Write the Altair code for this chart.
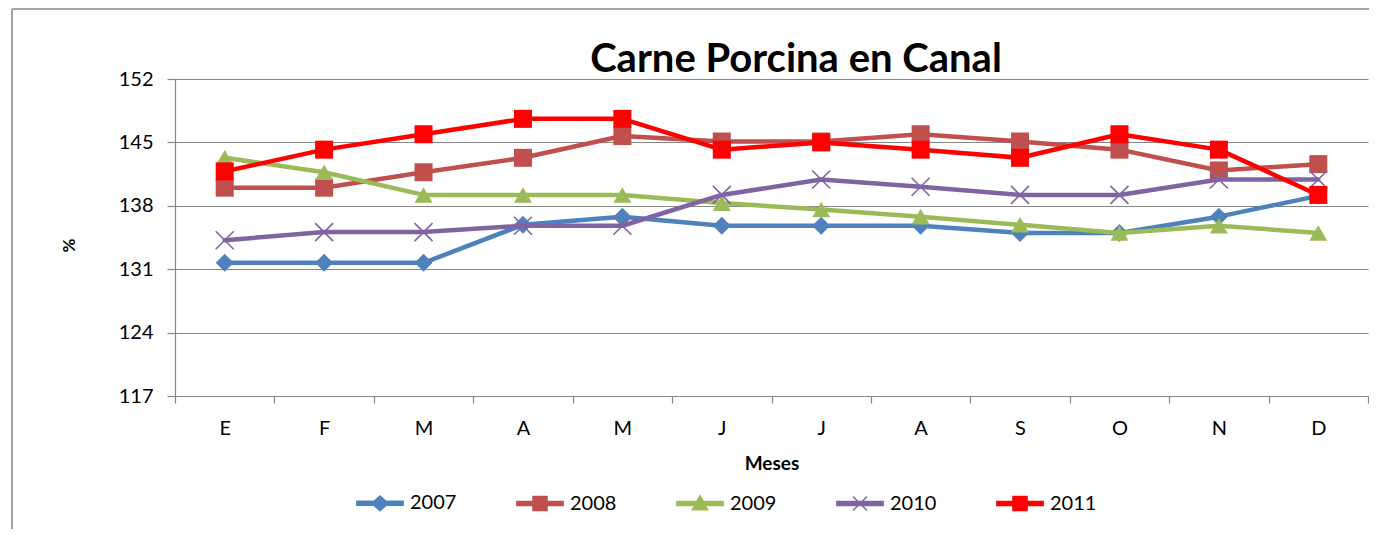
import altair as alt
import pandas as pd

MESES = ["E", "F", "M", "A", "M", "J", "J", "A", "S", "O", "N", "D"]
SERIES = ["2007", "2008", "2009", "2010", "2011"]
V2007 = [131.7, 131.7, 131.7, 135.9, 136.8, 135.8, 135.8, 135.8, 135.0, 135.0, 136.8, 139.1]
V2008 = [140.0, 140.0, 141.7, 143.3, 145.7, 145.1, 145.1, 145.9, 145.1, 144.2, 141.9, 142.6]
V2009 = [143.3, 141.7, 139.2, 139.2, 139.2, 138.3, 137.6, 136.8, 135.9, 135.0, 135.8, 135.0]
V2010 = [134.2, 135.1, 135.1, 135.8, 135.8, 139.2, 140.9, 140.1, 139.2, 139.2, 140.9, 140.9]
V2011 = [141.8, 144.2, 145.9, 147.6, 147.6, 144.2, 145.0, 144.2, 143.3, 145.9, 144.2, 139.2]
Y_TICKS = [117, 124, 131, 138, 145, 152]
TITULO = "Carne Porcina en Canal"
TITULO_X = "Meses"
TITULO_Y = "%"

COLORS = ["#4F81BD", "#C0504D", "#9BBB59", "#8064A2", "#FF0000"]
X_PATH = "M-1,-1L1,1M-1,1L1,-1"
PLOT_SHAPES = ["diamond", "square", "triangle-up", X_PATH, "square"]
PLOT_SIZES = [324, 324, 324, 324, 324]
LEG_PATHS = [
    "M-3.3,-0.29H-0.85L0,-1.05L0.85,-0.29H3.3V0.29H0.85L0,1.05L-0.85,0.29H-3.3Z",
    "M-3.3,-0.29H-1V-1H1V-0.29H3.3V0.29H1V1H-1V0.29H-3.3Z",
    "M-3.3,-0.29H-0.45L0,-1.1L0.45,-0.29H3.3V0.29H0.76L1.1,0.9H-1.1L-0.76,0.29H-3.3Z",
    "M-3.3,-0.29H3.3V0.29H-3.3Z M-1,-1L1,1 M-1,1L1,-1",
    "M-3.3,-0.29H-1V-1H1V-0.29H3.3V0.29H1V1H-1V0.29H-3.3Z",
]

VALUES = [V2007, V2008, V2009, V2010, V2011]
rows = []
for s, vals in zip(SERIES, VALUES):
    for i, (m, v) in enumerate(zip(MESES, vals)):
        rows.append({"idx": i, "mes": m, "serie": s, "valor": v})
df = pd.DataFrame(rows)

FONT = "Lato"
GRAY = "#868686"
W, H = 1193, 317

label_expr = "[" + ",".join("'%s'" % m for m in MESES) + "][datum.value]"

x_enc = alt.X(
    "idx:O",
    scale=alt.Scale(type="band", paddingInner=0, paddingOuter=0),
    axis=alt.Axis(
        labelExpr=label_expr, labelAngle=0, tickBand="extent", tickSize=7,
        tickColor=GRAY, domainColor=GRAY, domainWidth=1.2, tickWidth=1.2,
        grid=False, labelFont=FONT, labelFontSize=20, labelColor="black",
        labelPadding=15, title=TITULO_X, titleFont=FONT, titleFontSize=19,
        titleFontWeight="bold", titleColor="black", titleBaseline="alphabetic",
        titleY=73,
    ),
)
y_enc = alt.Y(
    "valor:Q",
    scale=alt.Scale(domain=[Y_TICKS[0], Y_TICKS[-1]], nice=False, zero=False),
    axis=alt.Axis(
        values=Y_TICKS, grid=True, gridColor=GRAY, gridWidth=1.2,
        domainColor=GRAY, domainWidth=1.2, tickColor=GRAY, tickWidth=1.2,
        tickSize=8, labelFont=FONT, labelFontSize=20, labelColor="black",
        labelPadding=14, title=TITULO_Y, titleFont=FONT, titleFontSize=17,
        titleFontWeight="bold", titleColor="black", titleAlign="center",
        titleBaseline="middle", titleX=-106, titleY=166,
    ),
)

base = alt.Chart(df)
one = alt.Chart(pd.DataFrame({"k": [0]}))

layers = []
# frame lines of the chart area (left and top edges)
layers.append(one.mark_rule(color=GRAY, strokeWidth=1.5).encode(
    x=alt.value(-163), x2=alt.value(1400), y=alt.value(-70)))
layers.append(one.mark_rule(color=GRAY, strokeWidth=1.5).encode(
    x=alt.value(-163), y=alt.value(-70), y2=alt.value(600)))

# chart title
layers.append(one.mark_text(
    text=TITULO, font=FONT, fontSize=40, fontWeight="bold", color="black",
    align="center", baseline="alphabetic",
).encode(x=alt.value(621), y=alt.value(-7)))

leg = alt.Legend(
    title=None, orient="none", legendX=195, legendY=414, direction="horizontal",
    symbolSize=196, labelFont=FONT, labelFontSize=20, labelColor="black",
    labelOffset=20, columnPadding=56, symbolStrokeWidth=1.5, padding=0,
    symbolOpacity=1,
)
legend_layer = base.transform_filter("false").mark_point(
    filled=True, size=196, strokeWidth=1.5, opacity=1
).encode(
    x=x_enc, y=y_enc,
    color=alt.Color("serie:N", scale=alt.Scale(domain=SERIES, range=COLORS), legend=leg),
    stroke=alt.Stroke("serie:N", scale=alt.Scale(domain=SERIES, range=COLORS), legend=leg),
    shape=alt.Shape("serie:N", scale=alt.Scale(domain=SERIES, range=LEG_PATHS), legend=leg),
)
layers.append(legend_layer)

for s, c, shp, sz in zip(SERIES, COLORS, PLOT_SHAPES, PLOT_SIZES):
    sub = base.transform_filter(alt.datum.serie == s)
    line = sub.mark_line(
        color=c, strokeWidth=4.5, strokeJoin="round", strokeCap="round"
    ).encode(x=x_enc, y=y_enc)
    if shp == X_PATH:
        pts = sub.mark_point(
            shape=shp, size=sz, filled=False, color=c, strokeWidth=1.6, opacity=1
        ).encode(x=x_enc, y=y_enc)
    else:
        pts = sub.mark_point(
            shape=shp, size=sz, filled=True, color=c, opacity=1
        ).encode(x=x_enc, y=y_enc)
    layers.append(line)
    layers.append(pts)

chart = alt.layer(*layers).properties(
    width=W, height=H,
    autosize=alt.AutoSizeParams(type="none"),
    padding={"left": 167, "top": 71, "right": 1, "bottom": 133},
    background="white",
).configure_view(stroke=None)

chart.save("out.html", embed_options={"renderer": "svg", "actions": False})
